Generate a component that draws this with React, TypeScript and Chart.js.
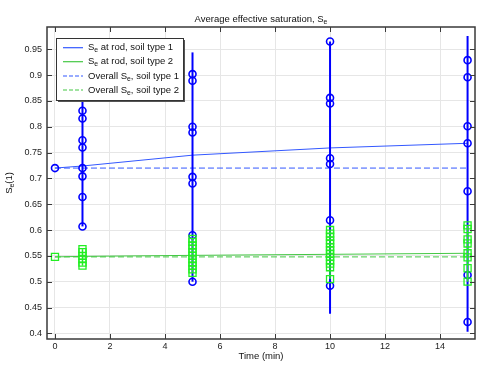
import React, { useEffect, useRef } from 'react';
import { Chart, registerables } from 'chart.js';
Chart.register(...registerables);

// ---- data ----
const timeTicks = [0, 2, 4, 6, 8, 10, 12, 14];
const satTicks = [0.4, 0.45, 0.5, 0.55, 0.6, 0.65, 0.7, 0.75, 0.8, 0.85, 0.9, 0.95];

const rodTimes = [0, 1, 5, 10, 15];
const rodSoil1 = [0.72, 0.724, 0.745, 0.759, 0.768];
const rodSoil2 = [0.548, 0.549, 0.551, 0.553, 0.555];

const overallTimes = [0, 15];
const overallSoil1 = [0.72, 0.72];
const overallSoil2 = [0.548, 0.548];

const probeTimes = [1, 5, 10, 15];
const soil1At1 = [0.607, 0.664, 0.704, 0.72, 0.76, 0.774, 0.816, 0.831];
const soil1At5 = [0.5, 0.59, 0.69, 0.703, 0.789, 0.8, 0.889, 0.902];
const soil1At10 = [0.492, 0.619, 0.728, 0.739, 0.845, 0.856, 0.965];
const soil1At15 = [0.422, 0.513, 0.675, 0.768, 0.801, 0.896, 0.929];
const soil1Low = [0.607, 0.5, 0.438, 0.403];
const soil1High = [0.87, 0.944, 0.965, 0.976];

const soil2At1 = [0.531, 0.537, 0.544, 0.55, 0.557, 0.563];
const soil2At5 = [0.517, 0.524, 0.531, 0.537, 0.544, 0.55, 0.557, 0.564, 0.57, 0.577, 0.583];
const soil2At10 = [0.505, 0.528, 0.535, 0.541, 0.548, 0.554, 0.561, 0.567, 0.574, 0.58, 0.587, 0.593, 0.6];
const soil2At15 = [0.5, 0.526, 0.547, 0.555, 0.574, 0.582, 0.602, 0.609];

const soil1Probes = [soil1At1, soil1At5, soil1At10, soil1At15];
const soil2Probes = [soil2At1, soil2At5, soil2At10, soil2At15];

const BLUE = '#0000ff';
const GREEN = '#22ee22';
const LBLUE = '#3358ff';
const LGREEN = '#44c844';
const FONT = '"Liberation Sans", Arial, sans-serif';

type Part = { t: string; sub?: boolean };

function richWidth(ctx: CanvasRenderingContext2D, parts: Part[], size: number) {
  let w = 0;
  for (const p of parts) {
    ctx.font = `${p.sub ? size * 0.72 : size}px ${FONT}`;
    w += ctx.measureText(p.t).width;
  }
  return w;
}

function drawRich(ctx: CanvasRenderingContext2D, parts: Part[], x: number, y: number, size: number, align: 'left' | 'center') {
  const w = richWidth(ctx, parts, size);
  let cx = align === 'center' ? x - w / 2 : x;
  ctx.textAlign = 'left';
  ctx.textBaseline = 'middle';
  for (const p of parts) {
    ctx.font = `${p.sub ? size * 0.72 : size}px ${FONT}`;
    ctx.fillText(p.t, cx, p.sub ? y + size * 0.3 : y);
    cx += ctx.measureText(p.t).width;
  }
}

const legendItems: { parts: Part[]; color: string; dash: number[] }[] = [
  { parts: [{ t: 'S' }, { t: 'e', sub: true }, { t: ' at rod, soil type 1' }], color: LBLUE, dash: [] },
  { parts: [{ t: 'S' }, { t: 'e', sub: true }, { t: ' at rod, soil type 2' }], color: LGREEN, dash: [] },
  { parts: [{ t: 'Overall S' }, { t: 'e', sub: true }, { t: ', soil type 1' }], color: LBLUE, dash: [4, 2] },
  { parts: [{ t: 'Overall S' }, { t: 'e', sub: true }, { t: ', soil type 2' }], color: LGREEN, dash: [4, 2] },
];

const decor = {
  id: 'decor',
  afterDraw(chart: any) {
    const ctx: CanvasRenderingContext2D = chart.ctx;
    const a = chart.chartArea;
    const xs = chart.scales.x;
    const ys = chart.scales.y;
    ctx.save();
    // frame
    ctx.strokeStyle = '#3a3a3a';
    ctx.lineWidth = 1.5;
    ctx.setLineDash([]);
    ctx.strokeRect(a.left, a.top, a.right - a.left, a.bottom - a.top);
    // inward ticks
    ctx.lineWidth = 1;
    ctx.beginPath();
    for (const v of timeTicks) {
      const px = Math.round(xs.getPixelForValue(v)) + 0.5;
      ctx.moveTo(px, a.bottom); ctx.lineTo(px, a.bottom - 5);
      ctx.moveTo(px, a.top); ctx.lineTo(px, a.top + 5);
    }
    for (const v of satTicks) {
      const py = Math.round(ys.getPixelForValue(v)) + 0.5;
      ctx.moveTo(a.left, py); ctx.lineTo(a.left + 5, py);
      ctx.moveTo(a.right, py); ctx.lineTo(a.right - 5, py);
    }
    ctx.stroke();
    // titles
    ctx.fillStyle = '#111';
    drawRich(ctx, [{ t: 'Average effective saturation, S' }, { t: 'e', sub: true }], (a.left + a.right) / 2, 19, 9.5, 'center');
    drawRich(ctx, [{ t: 'Time (min)' }], (a.left + a.right) / 2, 356, 9.5, 'center');
    ctx.save();
    ctx.translate(9, (a.top + a.bottom) / 2);
    ctx.rotate(-Math.PI / 2);
    drawRich(ctx, [{ t: 'S' }, { t: 'e', sub: true }, { t: '(1)' }], 0, 0, 9.5, 'center');
    ctx.restore();
    // legend
    const bx = 56, by = 38, bw = 127, bh = 62;
    ctx.fillStyle = '#555';
    ctx.fillRect(bx + 2, by + 2, bw, bh);
    ctx.fillStyle = '#fff';
    ctx.fillRect(bx, by, bw, bh);
    ctx.strokeStyle = '#333';
    ctx.lineWidth = 1;
    ctx.strokeRect(bx + 0.5, by + 0.5, bw, bh);
    const rows = [47.7, 61.7, 76, 90];
    legendItems.forEach((it, i) => {
      const y = rows[i];
      ctx.strokeStyle = it.color;
      ctx.lineWidth = 1.2;
      ctx.setLineDash(it.dash);
      ctx.beginPath();
      ctx.moveTo(63, y); ctx.lineTo(83, y);
      ctx.stroke();
      ctx.setLineDash([]);
      ctx.fillStyle = '#111';
      drawRich(ctx, it.parts, 88, y, 9.5, 'left');
    });
    ctx.restore();
  },
};

function pts(xs: number[], ys: number[]) {
  return xs.map((x, i) => ({ x, y: ys[i] }));
}

export default function App() {
  const ref = useRef<HTMLCanvasElement | null>(null);
  useEffect(() => {
    if (!ref.current) return;
    const datasets: any[] = [];
    // green probe squares (on top)
    soil2Probes.forEach((vals, i) => {
      const t = probeTimes[i];
      datasets.push({
        label: 'soil2probes' + t,
        data: vals.map((v) => ({ x: t, y: v })),
        showLine: true,
        borderColor: GREEN,
        borderWidth: 1.5,
        pointStyle: 'rect',
        pointRadius: 5,
        pointBorderWidth: 1.3,
        pointBorderColor: GREEN,
        pointBackgroundColor: 'rgba(0,0,0,0)',
        order: 1,
      });
    });
    // thin rod lines
    datasets.push({
      label: 'rod2',
      data: pts(rodTimes, rodSoil2),
      showLine: true,
      borderColor: LGREEN,
      borderWidth: 1,
      pointStyle: 'rect',
      pointRadius: [5, 0, 0, 0, 0],
      pointBorderWidth: 1.3,
      pointBorderColor: GREEN,
      pointBackgroundColor: 'rgba(0,0,0,0)',
      order: 2,
    });
    datasets.push({
      label: 'overall2',
      data: pts(overallTimes, overallSoil2),
      showLine: true,
      borderColor: LGREEN,
      borderWidth: 1,
      borderDash: [6, 3],
      pointRadius: 0,
      order: 2,
    });
    // blue probes
    soil1Probes.forEach((vals, i) => {
      const t = probeTimes[i];
      const data = [{ x: t, y: soil1Low[i] }, ...vals.map((v) => ({ x: t, y: v })), { x: t, y: soil1High[i] }];
      const radius = [0, ...vals.map(() => 3.5), 0];
      datasets.push({
        label: 'soil1probes' + t,
        data,
        showLine: true,
        borderColor: BLUE,
        borderWidth: 2,
        pointStyle: 'circle',
        pointRadius: radius,
        pointBorderWidth: 1.6,
        pointBorderColor: BLUE,
        pointBackgroundColor: 'rgba(0,0,0,0)',
        order: 3,
      });
    });
    datasets.push({
      label: 'rod1',
      data: pts(rodTimes, rodSoil1),
      showLine: true,
      borderColor: LBLUE,
      borderWidth: 1,
      pointStyle: 'circle',
      pointRadius: [3.5, 0, 0, 0, 0],
      pointBorderWidth: 1.6,
      pointBorderColor: BLUE,
      pointBackgroundColor: 'rgba(0,0,0,0)',
      order: 4,
    });
    datasets.push({
      label: 'overall1',
      data: pts(overallTimes, overallSoil1),
      showLine: true,
      borderColor: LBLUE,
      borderWidth: 1,
      borderDash: [6, 3],
      pointRadius: 0,
      order: 4,
    });

    const chart = new Chart(ref.current, {
      type: 'scatter',
      data: { datasets },
      options: {
        animation: false,
        responsive: true,
        maintainAspectRatio: false,
        layout: { padding: { top: 27, right: 8, left: 0, bottom: 0 } },
        plugins: { legend: { display: false }, tooltip: { enabled: false }, title: { display: false } },
        scales: {
          x: {
            type: 'linear',
            min: -0.29,
            max: 15.27,
            afterFit: (s: any) => { s.height = 27; },
            afterBuildTicks: (s: any) => { s.ticks = timeTicks.map((v) => ({ value: v })); },
            ticks: { color: '#222', font: { family: FONT, size: 9 }, padding: 2, maxRotation: 0, callback: (v: any) => String(v) },
            grid: { color: '#e6e6e6', drawTicks: false, lineWidth: 1 },
            border: { display: false },
          },
          y: {
            type: 'linear',
            min: 0.389,
            max: 0.9932,
            afterFit: (s: any) => { s.width = 47; },
            afterBuildTicks: (s: any) => { s.ticks = satTicks.map((v) => ({ value: v })); },
            ticks: { color: '#222', font: { family: FONT, size: 9 }, padding: 5, callback: (v: any) => String(Math.round(v * 100) / 100) },
            grid: { color: '#e6e6e6', drawTicks: false, lineWidth: 1 },
            border: { display: false },
          },
        },
      },
      plugins: [decor],
    });
    return () => chart.destroy();
  }, []);
  return (
    <div style={{ position: 'fixed', left: 0, top: 0, width: 483, height: 366, background: '#fff' }}>
      <canvas ref={ref} />
    </div>
  );
}
